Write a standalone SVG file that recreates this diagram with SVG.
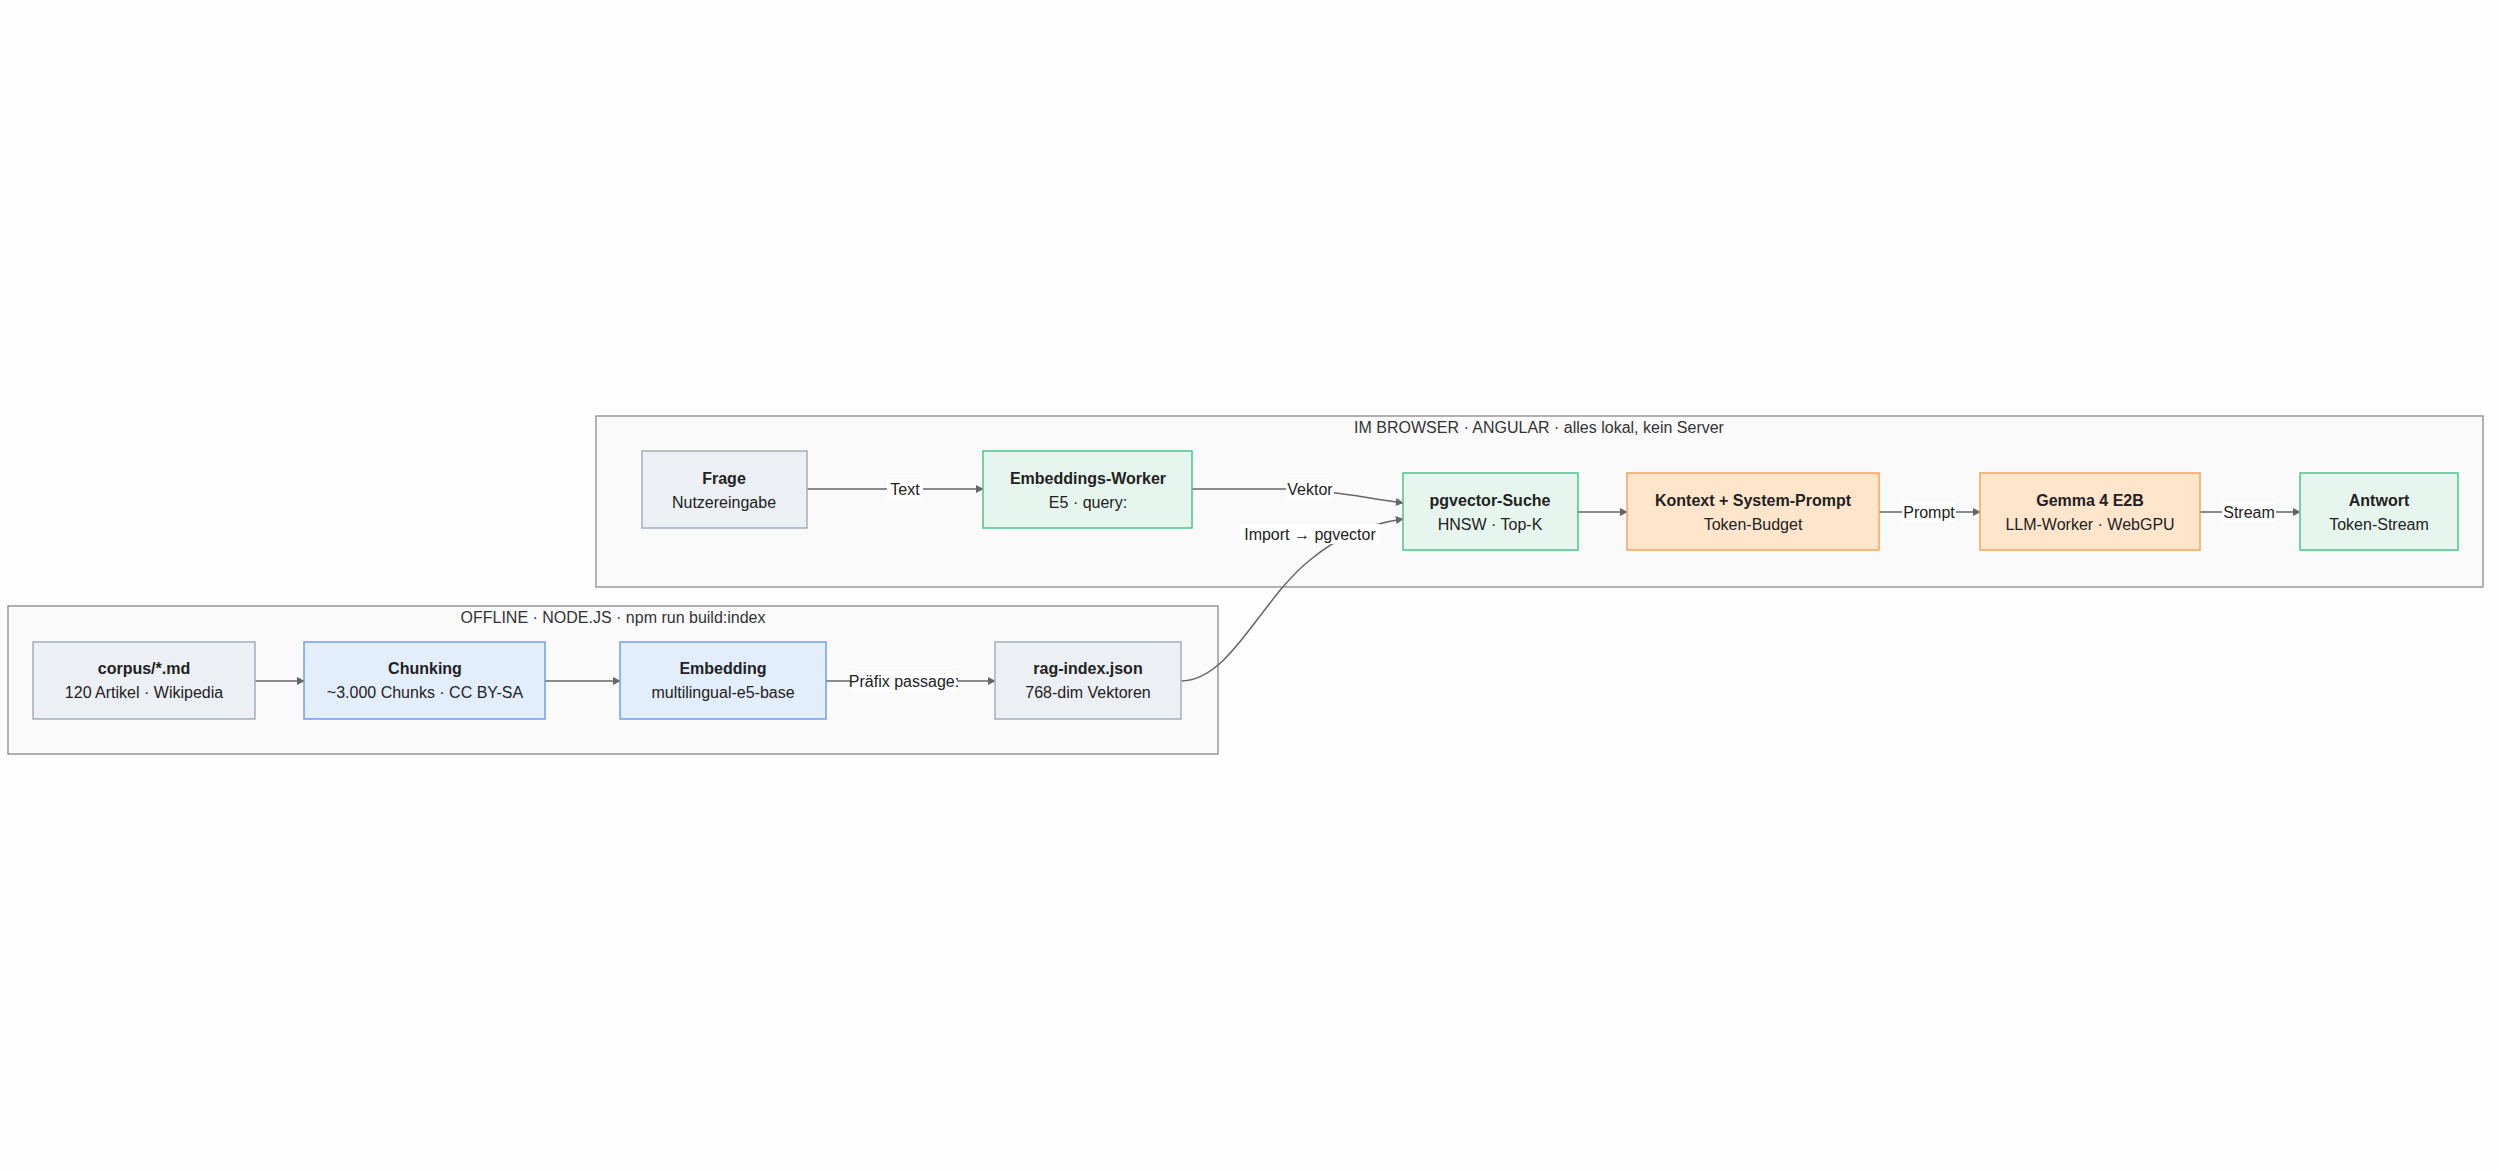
<svg xmlns="http://www.w3.org/2000/svg" width="2499" height="1171" viewBox="0 0 2499 1171">
<defs>
<marker id="arr" viewBox="0 0 10 10" refX="9" refY="5" markerWidth="8" markerHeight="8" orient="auto" markerUnits="userSpaceOnUse"><path d="M0,0 L10,5 L0,10 z" fill="#666"/></marker>
<style>
text{font-family:"Liberation Sans","DejaVu Sans",sans-serif;fill:#222;text-anchor:middle;dominant-baseline:central}
.t{font-size:16px;font-weight:bold}
.s{font-size:16px}
.c{font-size:16px;fill:#333}
.cl{fill:#FAFAFA;stroke:#999;stroke-width:1.5}
.g{fill:#ECEFF3;stroke:#A6AEB9;stroke-width:1.5}
.gr{fill:#E6F6EE;stroke:#4CC38A;stroke-width:1.5}
.b{fill:#E3EEFC;stroke:#6C9EF0;stroke-width:1.5}
.o{fill:#FFE5CC;stroke:#F5A55A;stroke-width:1.5}
.e{fill:none;stroke:#666;stroke-width:1.5;marker-end:url(#arr)}
.lb{fill:#fff}
</style>
</defs>
<rect width="2499" height="1171" fill="#FDFDFD"/>
<g id="cluster-browser"><rect class="cl" x="596" y="416" width="1887" height="171"/><text class="c" x="1539" y="427">IM BROWSER · ANGULAR · alles lokal, kein Server</text></g>
<g id="cluster-offline"><rect class="cl" x="8" y="606" width="1210" height="148"/><text class="c" x="613" y="617">OFFLINE · NODE.JS · npm run build:index</text></g>
<g id="connectors">
<path class="e" d="M807,489 L983,489"/>
<path class="e" d="M1192,489 L1290,489 C1330,490 1360,497 1403,503"/>
<path class="e" d="M1181,681 C1230,681 1260,600 1310,560 C1340,535 1370,524 1403,519"/>
<path class="e" d="M1578,512 L1627,512"/>
<path class="e" d="M1879,512 L1980,512"/>
<path class="e" d="M2200,512 L2300,512"/>
<path class="e" d="M255,681 L304,681"/>
<path class="e" d="M545,681 L620,681"/>
<path class="e" d="M826,681 L995,681"/>
<rect class="lb" x="887" y="479" width="36" height="20"/><text class="s" x="905" y="489">Text</text>
<rect class="lb" x="1286" y="479" width="48" height="20"/><text class="s" x="1310" y="489">Vektor</text>
<rect class="lb" x="1240" y="524" width="140" height="20"/><text class="s" x="1310" y="534">Import → pgvector</text>
<rect class="lb" x="1902" y="502" width="54" height="20"/><text class="s" x="1929" y="512">Prompt</text>
<rect class="lb" x="2222" y="502" width="54" height="20"/><text class="s" x="2249" y="512">Stream</text>
<rect class="lb" x="851" y="671" width="106" height="20"/><text class="s" x="904" y="681">Präfix passage:</text>
</g>
<g id="frage"><rect class="g" x="642" y="451" width="165" height="77"/><text class="t" x="724" y="478">Frage</text><text class="s" x="724" y="502">Nutzereingabe</text></g>
<g id="embworker"><rect class="gr" x="983" y="451" width="209" height="77"/><text class="t" x="1088" y="478">Embeddings-Worker</text><text class="s" x="1088" y="502">E5 · query:</text></g>
<g id="pgvector"><rect class="gr" x="1403" y="473" width="175" height="77"/><text class="t" x="1490" y="500">pgvector-Suche</text><text class="s" x="1490" y="524">HNSW · Top-K</text></g>
<g id="kontext"><rect class="o" x="1627" y="473" width="252" height="77"/><text class="t" x="1753" y="500">Kontext + System-Prompt</text><text class="s" x="1753" y="524">Token-Budget</text></g>
<g id="gemma"><rect class="o" x="1980" y="473" width="220" height="77"/><text class="t" x="2090" y="500">Gemma 4 E2B</text><text class="s" x="2090" y="524">LLM-Worker · WebGPU</text></g>
<g id="antwort"><rect class="gr" x="2300" y="473" width="158" height="77"/><text class="t" x="2379" y="500">Antwort</text><text class="s" x="2379" y="524">Token-Stream</text></g>
<g id="corpus"><rect class="g" x="33" y="642" width="222" height="77"/><text class="t" x="144" y="668">corpus/*.md</text><text class="s" x="144" y="692">120 Artikel · Wikipedia</text></g>
<g id="chunking"><rect class="b" x="304" y="642" width="241" height="77"/><text class="t" x="425" y="668">Chunking</text><text class="s" x="425" y="692">~3.000 Chunks · CC BY-SA</text></g>
<g id="embedding"><rect class="b" x="620" y="642" width="206" height="77"/><text class="t" x="723" y="668">Embedding</text><text class="s" x="723" y="692">multilingual-e5-base</text></g>
<g id="ragindex"><rect class="g" x="995" y="642" width="186" height="77"/><text class="t" x="1088" y="668">rag-index.json</text><text class="s" x="1088" y="692">768-dim Vektoren</text></g>
</svg>
